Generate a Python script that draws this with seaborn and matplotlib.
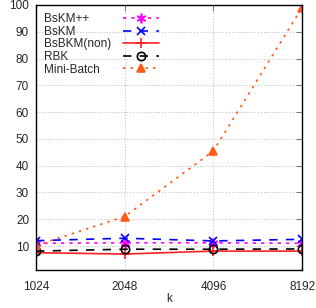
import matplotlib
matplotlib.use("Agg")
import matplotlib.pyplot as plt
import seaborn as sns
import pandas as pd

k_values = [1024, 2048, 4096, 8192]
bskmpp = [11.0, 11.2, 11.2, 11.0]
bskm = [12.0, 12.9, 11.9, 12.5]
bsbkm_non = [7.5, 7.0, 8.1, 8.1]
rbk = [8.1, 8.8, 8.8, 8.9]
minibatch = [10.2, 21.0, 45.5, 99.0]

series = [
    ("BsKM++", bskmpp, "#ff00ff", (0, (2, 3)), (6, 2, 0), 7, "#ff00ff"),
    ("BsKM", bskm, "#0000ff", (0, (5, 5)), "x", 6, "#0000ff"),
    ("BsBKM(non)", bsbkm_non, "#ff2020", "-", "+", 7, "#ff2020"),
    ("RBK", rbk, "#000000", (0, (5, 5)), "o", 6, "none"),
    ("Mini-Batch", minibatch, "#ff5a1a", (0, (1.5, 3)), "^", 6, "#ff5a1a"),
]

sns.set_style("white")
plt.rcParams["font.family"] = ["Liberation Sans", "DejaVu Sans"]
plt.rcParams["font.size"] = 8.5

fig = plt.figure(figsize=(3.16, 3.08), dpi=100)
ax = fig.add_axes([0.114, 0.123, 0.842, 0.861])

for name, vals, color, ls, marker, ms, mfc in series:
    df = pd.DataFrame({"k": k_values, "v": vals})
    sns.lineplot(data=df, x="k", y="v", ax=ax, color=color, linestyle=ls,
                 marker=marker, markersize=ms, markerfacecolor=mfc,
                 markeredgecolor=color, markeredgewidth=1.2, linewidth=1.2,
                 label=name)

ax.set_xscale("log", base=2)
ax.set_xticks(k_values)
ax.set_xticklabels([str(k) for k in k_values])
ax.minorticks_off()
ax.set_xlim(1024, 8192)
ax.set_ylim(1, 100)
ax.set_yticks([10, 20, 30, 40, 50, 60, 70, 80, 90, 100])
ax.set_xlabel("k", fontsize=8.5, labelpad=0)
ax.set_ylabel("")
ax.grid(True, color="#b8b8b8", linestyle=(0, (1, 2)), linewidth=0.7)
ax.tick_params(direction="in", top=True, right=True, length=4, width=0.8,
               labelsize=8.5, color="#808080")
ax.tick_params(axis="x", pad=8)
ax.tick_params(axis="y", pad=5)
for s in ax.spines.values():
    s.set_color("black")
    s.set_linewidth(1.0)

leg = ax.legend(loc="upper left", frameon=False, markerfirst=False,
                handlelength=3.0, borderaxespad=0.3, labelspacing=0.05,
                handletextpad=1.0, fontsize=8.5)

# left-align legend texts while keeping handles aligned in a column
fig.canvas.draw()
texts = leg.get_texts()
widths = [t.get_window_extent().width for t in texts]
maxw = max(widths)
for col in leg._legend_handle_box.get_children():
    for item in col.get_children():
        tb = item.get_children()[0]
        w = tb._text.get_window_extent().width
        item.sep += (maxw - w) * 72.0 / fig.dpi
    col.align = "left"

fig.savefig("out.png", dpi=100)
